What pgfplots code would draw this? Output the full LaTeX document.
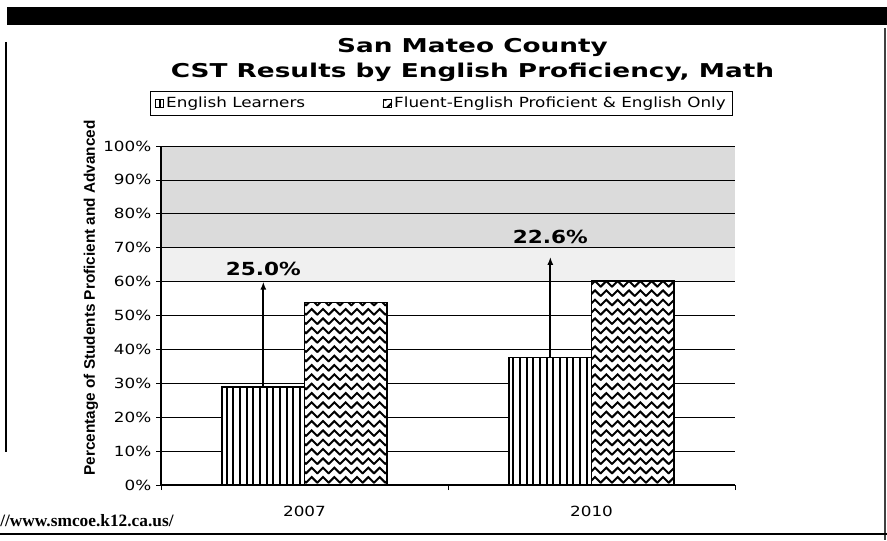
\documentclass[border=0pt]{standalone}
\usepackage{fontspec}
\setmainfont{DejaVu Sans}[FakeStretch=1.2]
\newfontfamily\titlefont{DejaVu Sans}[FakeStretch=1.38]
\newfontfamily\arialfont{Liberation Sans}
\newfontfamily\timesfont{Liberation Serif}
\usepackage{pgfplots}
\pgfplotsset{compat=1.18}
\usetikzlibrary{patterns,patterns.meta,arrows.meta}

% zigzag fill like the Excel pattern
\pgfdeclarepatternformonly{zigzag}{\pgfpoint{-1pt}{-1pt}}{\pgfpoint{9.75pt}{8pt}}{\pgfpoint{8.5pt}{7pt}}{%
  \pgfsetlinewidth{1.5pt}%
  \pgfsetroundcap
  \pgfpathmoveto{\pgfpoint{0pt}{1pt}}%
  \pgfpathlineto{\pgfpoint{4.25pt}{5.2pt}}%
  \pgfpathlineto{\pgfpoint{8.5pt}{1pt}}%
  \pgfusepath{stroke}%
}

\begin{document}
\begin{tikzpicture}
% page frame, in pixels of the 887x540 reference
\begin{scope}[x=0.75pt,y=0.75pt]
  \path[use as bounding box] (0,0) rectangle (887,540);
  \fill[black] (7,540-7) rectangle (887,540-25);
  \draw[line width=1.6pt] (6,540-42) -- (6,540-452);
  \draw[line width=0.9pt, black!75] (885,540-28) -- (885,0);
  \draw[line width=1.6pt] (0,540-534) -- (887,540-534);
  \node[anchor=west, inner sep=0pt, font=\timesfont\bfseries\fontsize{13}{15}\selectfont]
    at (0,540-521) {//www.smcoe.k12.ca.us/};
  \node[align=center, font=\titlefont\bfseries\fontsize{14.3}{18.75}\selectfont]
    at (472.5,540-60) {San Mateo County\\CST Results by English Proficiency, Math};
\end{scope}

\begin{axis}[
  at={(120.75pt,41.25pt)}, anchor=south west,
  scale only axis, width=430.5pt, height=254.25pt,
  set layers,
  ybar=0pt, bar width=0.287,
  xmin=-0.5, xmax=1.5, ymin=0, ymax=100,
  separate axis lines,
  axis x line*=bottom, axis y line*=left,
  axis line style={-, black, line width=0.8pt},
  ytick={0,10,...,100},
  yticklabel={\pgfmathprintnumber{\tick}\%},
  /pgf/number format/assume math mode=true,
  ymajorgrids, major grid style={black, line width=0.6pt},
  tick style={black, line width=0.6pt},
  tick align=outside, major tick length=3.75pt,
  xtick={-0.5,0.5,1.5}, xticklabels={},
  extra x ticks={0,1}, extra x tick labels={2007,2010},
  extra x tick style={major tick length=0pt, grid=none},
  xticklabel style={yshift=-12pt},
  ticklabel style={font=\fontsize{10.5}{12}\selectfont},
  ylabel={Percentage of Students Proficient and Advanced},
  ylabel style={at={(rel axis cs:0,0.552)}, anchor=center, yshift=52.5pt,
    font=\arialfont\bfseries\fontsize{11.5}{13}\selectfont},
  legend style={at={(axis description cs:0.4887,1.1254)}, anchor=center,
    legend columns=2, draw=black, line width=0.6pt,
    font=\fontsize{10.5}{12}\selectfont,
    /tikz/every even column/.append style={column sep=56pt}},
  legend image code/.code={\draw[#1, line width=0.5pt] (0cm,-0.11cm) rectangle (0.22cm,0.11cm);},
]
\begin{pgfonlayer}{axis background}
  \fill[gray!28] (axis cs:-0.5,70) rectangle (axis cs:1.5,100);
  \fill[gray!12] (axis cs:-0.5,60) rectangle (axis cs:1.5,70);
\end{pgfonlayer}

\addplot[draw=black, line width=1.1pt, fill=white,
  postaction={pattern={Lines[angle=90,distance=5pt,line width=1.5pt]}}]
  coordinates {(0,28.9) (1,37.6)};
\addplot[draw=black, line width=1.1pt, fill=white,
  postaction={pattern=zigzag, pattern color=black}]
  coordinates {(0,53.9) (1,60.2)};
\legend{English Learners, Fluent-English Proficient \& English Only}

\draw[-{Latex[length=6pt,width=4.5pt]}, line width=1.5pt]
  (axis cs:-0.1435,28.9) -- (axis cs:-0.1435,60);
\node[font=\bfseries\fontsize{13.5}{13.5}\selectfont] at (axis cs:-0.1435,63.8) {25.0\%};
\draw[-{Latex[length=6pt,width=4.5pt]}, line width=1.5pt]
  (axis cs:0.8565,37.6) -- (axis cs:0.8565,67.3);
\node[font=\bfseries\fontsize{13.5}{13.5}\selectfont] at (axis cs:0.8565,73.2) {22.6\%};
\end{axis}
\end{tikzpicture}
\end{document}
